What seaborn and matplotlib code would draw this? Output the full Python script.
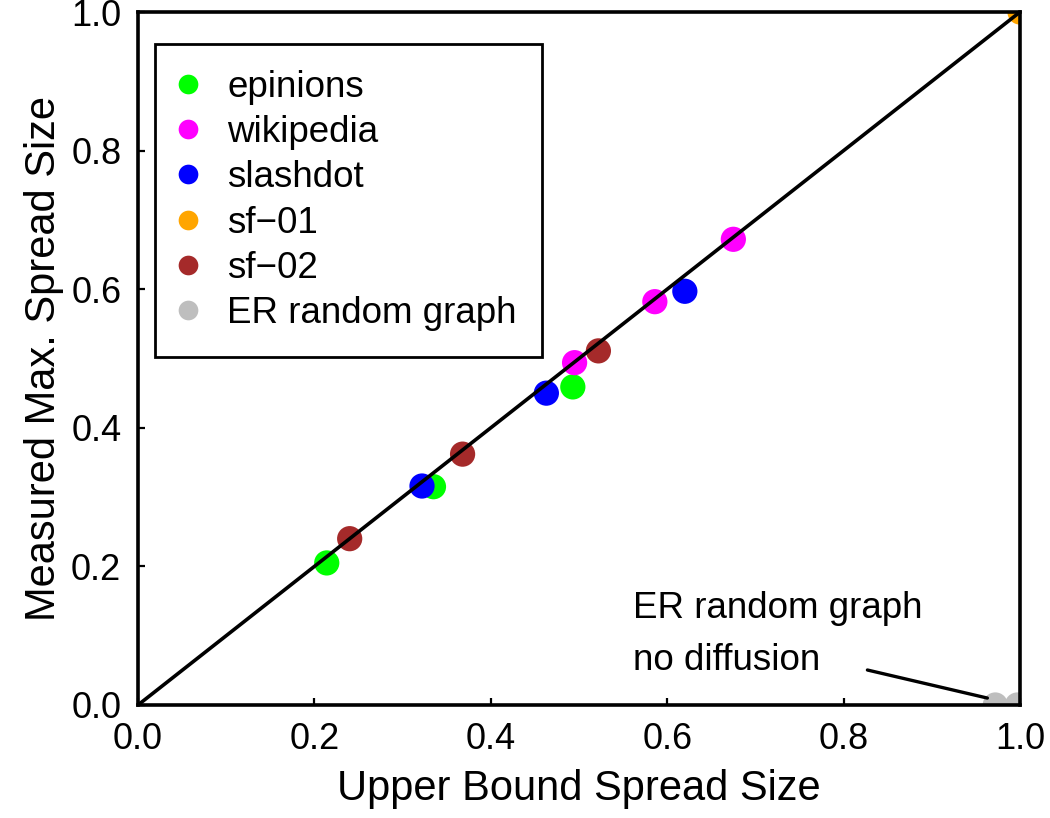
import matplotlib
matplotlib.use("Agg")
import matplotlib.pyplot as plt
import seaborn as sns
import pandas as pd

# data
epinions_x = [0.214, 0.335, 0.493]
epinions_y = [0.205, 0.315, 0.459]
wikipedia_x = [0.495, 0.586, 0.675]
wikipedia_y = [0.494, 0.582, 0.672]
slashdot_x = [0.322, 0.463, 0.620]
slashdot_y = [0.316, 0.450, 0.597]
sf01_x = [1.0]
sf01_y = [1.0]
sf02_x = [0.240, 0.368, 0.522]
sf02_y = [0.240, 0.362, 0.511]
er_x = [0.972, 0.997]
er_y = [0.0, 0.0]

series_names = ["epinions", "wikipedia", "slashdot", "sf\u221201", "sf\u221202", "ER random graph"]
series_colors = ["#00FF00", "#FF00FF", "#0000FF", "#FFA500", "#A52A2A", "#BEBEBE"]
ticks = [0.0, 0.2, 0.4, 0.6, 0.8, 1.0]
tick_labels = ["0.0", "0.2", "0.4", "0.6", "0.8", "1.0"]
annot_lines = ["ER random graph", "no diffusion"]

xs = [epinions_x, wikipedia_x, slashdot_x, sf01_x, sf02_x, er_x]
ys = [epinions_y, wikipedia_y, slashdot_y, sf01_y, sf02_y, er_y]
rows = []
for name, xx, yy in zip(series_names, xs, ys):
    for a, b in zip(xx, yy):
        rows.append({"x": a, "y": b, "series": name})
df = pd.DataFrame(rows)

sns.set_theme(style="white", rc={"text.color": "black", "axes.labelcolor": "black",
                                 "xtick.color": "black", "ytick.color": "black",
                                 "axes.edgecolor": "black"})
plt.rcParams['font.family'] = ['Liberation Sans', 'DejaVu Sans']

fig = plt.figure(figsize=(10.5, 8.18), dpi=100)
ax = fig.add_axes([138/1050, 1 - 705/818, 882/1050, 693/818])

ax.plot([0, 1], [0, 1], color="black", lw=2.6, zorder=3)

sns.scatterplot(data=df, x="x", y="y", hue="series", hue_order=series_names,
                palette=series_colors, s=330, edgecolor="none", linewidth=0,
                ax=ax, zorder=2, legend=True)

ax.set_xlim(0, 1)
ax.set_ylim(0, 1)
ax.set_xticks(ticks)
ax.set_xticklabels(tick_labels)
ax.set_yticks(ticks)
ax.set_yticklabels(tick_labels)
ax.tick_params(axis="both", direction="in", length=5, width=1.6, labelsize=26,
               colors="black", pad=12, left=True, bottom=True, top=False, right=False)
ax.set_xlabel("Upper Bound Spread Size", fontsize=30, labelpad=9)
ax.set_ylabel("Measured Max. Spread Size", fontsize=30, labelpad=5)
for sp in ax.spines.values():
    sp.set_color("black")
    sp.set_linewidth(2.6)

# annotation
ax.text(0.561, 0.1255, annot_lines[0], fontsize=26.5, ha="left", va="baseline")
ax.text(0.561, 0.0505, annot_lines[1], fontsize=26.5, ha="left", va="baseline")
ax.plot([0.827, 0.963], [0.0505, 0.010], color="black", lw=2.4, zorder=3)

handles, labels = ax.get_legend_handles_labels()
leg = ax.legend(handles, labels, loc="upper left", bbox_to_anchor=(0.0193, 0.954),
                fontsize=26.5, frameon=True, fancybox=False, markerscale=0.78,
                handletextpad=0.86, labelspacing=0.28, borderpad=0.7,
                borderaxespad=0, handlelength=0.4, framealpha=1.0)
leg.get_frame().set_edgecolor("black")
leg.get_frame().set_linewidth(2.0)

fig.savefig("out.png", dpi=100, facecolor="white")
